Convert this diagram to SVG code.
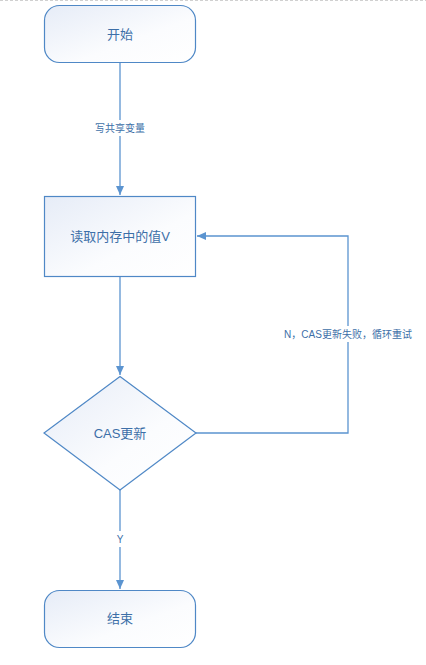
<svg xmlns="http://www.w3.org/2000/svg" width="426" height="665" viewBox="0 0 426 665">
<style>
.node{stroke:#4f88c6;stroke-width:1.2;fill:url(#g)}
.t{font-family:"Liberation Sans","Noto Sans CJK SC",sans-serif;font-size:13px;fill:#3d6fa8;text-anchor:middle;dominant-baseline:central}
.l{font-family:"Liberation Sans","Noto Sans CJK SC",sans-serif;font-size:10px;fill:#3d6fa8;text-anchor:middle;dominant-baseline:central}
.c{stroke:#5b94d0;stroke-width:1.3;fill:none}
</style>
<defs>
<linearGradient id="g" x1="0" y1="0" x2="1" y2="1">
<stop offset="0" stop-color="#e6ecf7"/>
<stop offset="0.6" stop-color="#fbfcfe"/>
<stop offset="1" stop-color="#ffffff"/>
</linearGradient>
<marker id="a" markerWidth="10" markerHeight="10" refX="9" refY="5" orient="auto" markerUnits="userSpaceOnUse">
<path d="M0,1 L9,5 L0,9 Z" fill="#5b94d0"/>
</marker>
</defs>
<rect width="426" height="665" fill="#ffffff"/>
<line x1="0" y1="0.5" x2="426" y2="0.5" stroke="#d0d0d0" stroke-dasharray="3,2"/>
<g id="connectors">
<line class="c" x1="120" y1="62" x2="120" y2="195" marker-end="url(#a)"/>
<rect x="88" y="120" width="64" height="16" fill="#ffffff"/>
<text class="l" x="120" y="128">写共享变量</text>
<line class="c" x1="120" y1="276" x2="120" y2="375" marker-end="url(#a)"/>
<line class="c" x1="120" y1="490" x2="120" y2="589" marker-end="url(#a)"/>
<rect x="113" y="531" width="14" height="16" fill="#ffffff"/>
<text class="l" x="120" y="539">Y</text>
<polyline class="c" points="196,433 348,433 348,236 197,236" marker-end="url(#a)"/>
<rect x="282" y="326" width="132" height="16" fill="#ffffff"/>
<text class="l" x="348" y="334">N，CAS更新失败，循环重试</text>
</g>
<g id="start">
<rect class="node" x="44.5" y="5.5" width="151" height="57" rx="15"/>
<text class="t" x="120" y="34">开始</text>
</g>
<g id="read">
<rect class="node" x="44.5" y="196.5" width="151" height="80"/>
<text class="t" x="120" y="236">读取内存中的值V</text>
</g>
<g id="cas">
<polygon class="node" points="120,376.5 196,433 120,490 44,433"/>
<text class="t" x="120" y="433">CAS更新</text>
</g>
<g id="end">
<rect class="node" x="44.5" y="590.5" width="151" height="57" rx="15"/>
<text class="t" x="120" y="618">结束</text>
</g>
</svg>
